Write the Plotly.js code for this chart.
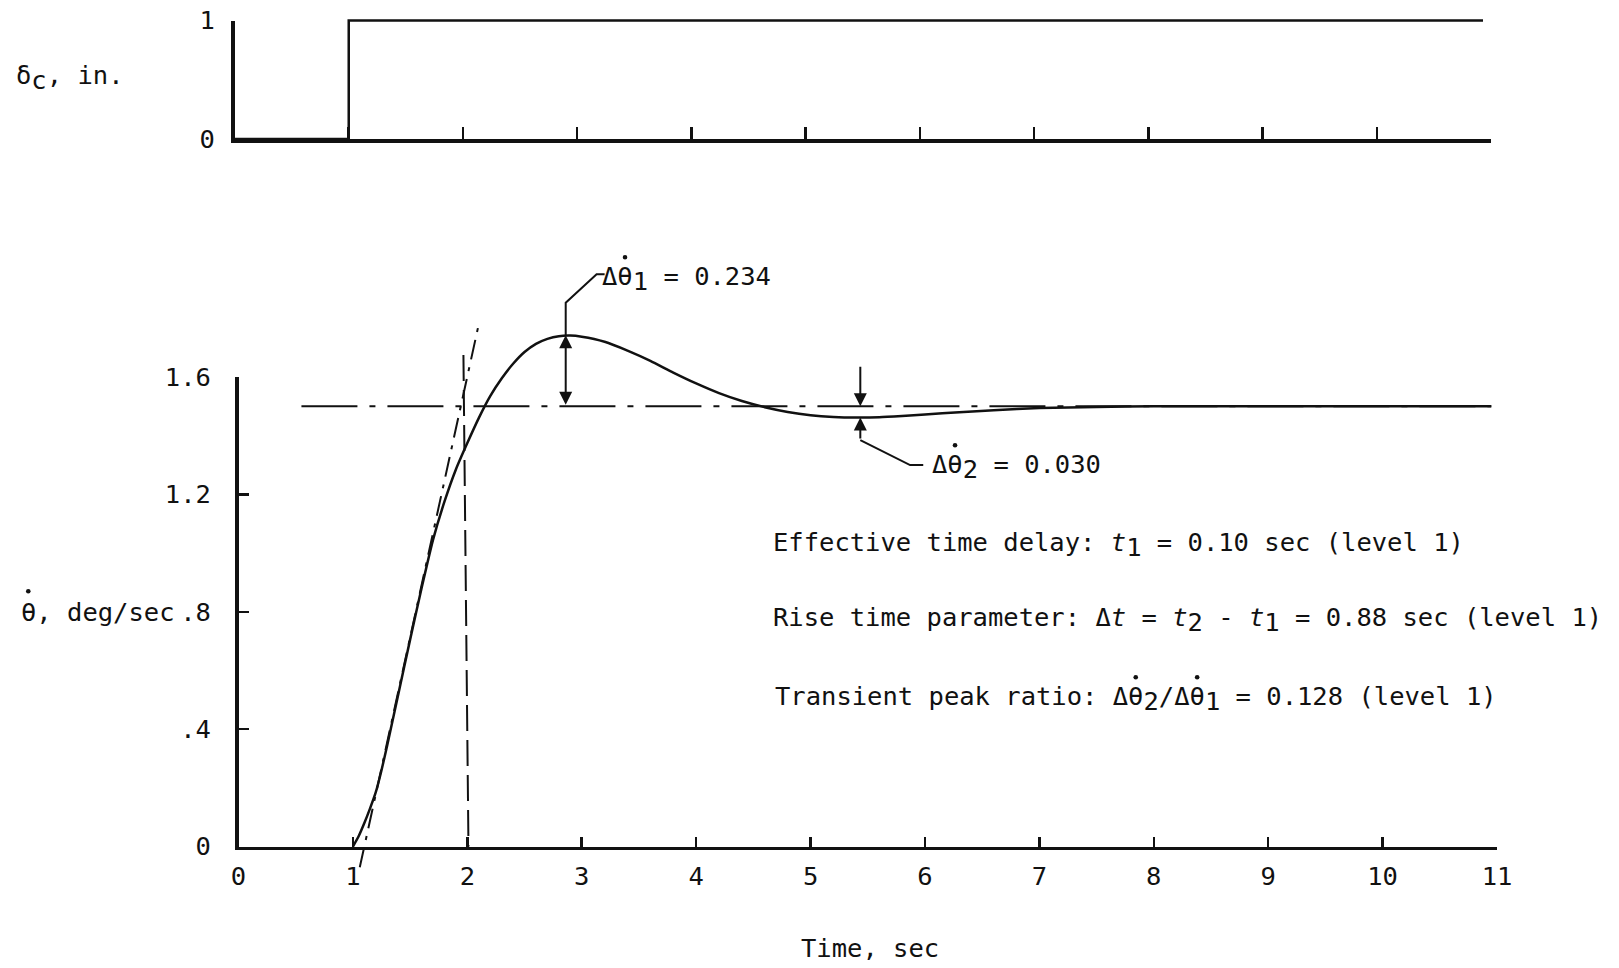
<!DOCTYPE html>
<html>
<head>
<meta charset="utf-8">
<script src="https://cdn.plot.ly/plotly-3.0.1.min.js"></script>
<style>html,body{margin:0;padding:0;background:#fff;}#chart{width:1619px;height:968px;}</style>
</head>
<body>
<div id="chart"></div>
<script>
// ---- data ----
const stepTime = [0, 1, 1, 10.93];
const stepDelta = [0, 0, 1, 1];

const time = [1.0, 1.05, 1.1, 1.15, 1.2, 1.25, 1.3, 1.4, 1.5, 1.6, 1.7, 1.8, 1.9, 2.0, 2.1, 2.2, 2.3, 2.4, 2.5, 2.6, 2.7, 2.8, 2.9, 3.0, 3.2, 3.4, 3.6, 3.8, 4.0, 4.2, 4.4, 4.6, 4.8, 5.0, 5.2, 5.4, 5.6, 5.8, 6.0, 6.3, 6.6, 7.0, 7.5, 8.0, 9.0, 10.0, 10.95];
const pitchRate = [0, 0.035, 0.08, 0.13, 0.185, 0.26, 0.345, 0.525, 0.705, 0.88, 1.045, 1.175, 1.285, 1.375, 1.46, 1.535, 1.595, 1.645, 1.685, 1.713, 1.73, 1.739, 1.741, 1.737, 1.72, 1.69, 1.655, 1.615, 1.578, 1.545, 1.518, 1.497, 1.481, 1.47, 1.464, 1.462, 1.463, 1.467, 1.472, 1.48, 1.487, 1.494, 1.498, 1.5, 1.5, 1.5, 1.5];

const steadyTime = [0.55, 10.95];
const steadyValue = [1.5, 1.5];

const tangentTime = [1.06, 2.10];
const tangentValue = [-0.071, 1.78];

const riseMarkTime = [1.966, 2.01];
const riseMarkValue = [1.675, 0];

const xTickVals = [0,1,2,3,4,5,6,7,8,9,10,11];
const xTickText = ['0','1','2','3','4','5','6','7','8','9','10','11'];
const yTickVals = [0, 0.4, 0.8, 1.2, 1.6];
const yTickText = ['0', '.4', '.8', '1.2', '1.6'];
const topXTicks = [1,2,3,4,5,6,7,8,9,10,11];
const topYTickVals = [0, 1];
const topYTickText = ['0', '1'];

// ---- geometry (pixels in 1619x968) ----
const W = 1619, H = 968;
const fx = p => p / W;
const fy = p => (H - p) / H;
const BX0 = 238.5, BX11 = 1497, BY0 = 846.5, BY16 = 377;
const TX0 = 234.5, TX11 = 1491, TY0 = 139, TY1 = 20.5;
const ppu = (BY0 - BY16) / 1.6;
const dMin = -0.15, dMax = 2.05;
const tppu = (TY0 - TY1);
const tMin = -0.1, tMax = 1.1;

const FONT = 'DejaVu Sans Mono';
const FS = 25.5;
const ADV = 0.602 * FS;
const INK = '#111';
const S = d => '<sub><span style="font-size:' + FS + 'px">' + d + '</span></sub>';

const traces = [
  {x: [xTickVals[0]], y: [yTickVals[0]], xaxis: 'x', yaxis: 'y', mode: 'markers', marker: {opacity: 0}, hoverinfo: 'skip'},
  {x: [topXTicks[0]], y: [topYTickVals[0]], xaxis: 'x2', yaxis: 'y2', mode: 'markers', marker: {opacity: 0}, hoverinfo: 'skip'},
  {x: stepTime, y: stepDelta, xaxis: 'x2', yaxis: 'y4', mode: 'lines', line: {color: INK, width: 2.5}, hoverinfo: 'skip'},
  {x: steadyTime, y: steadyValue, xaxis: 'x', yaxis: 'y3', mode: 'lines', line: {color: INK, width: 2, dash: '56px,12px,6px,12px'}, hoverinfo: 'skip'},
  {x: tangentTime, y: tangentValue, xaxis: 'x', yaxis: 'y3', mode: 'lines', line: {color: INK, width: 2, dash: '20px,8px,4px,8px'}, hoverinfo: 'skip'},
  {x: riseMarkTime, y: riseMarkValue, xaxis: 'x', yaxis: 'y3', mode: 'lines', line: {color: INK, width: 2, dash: '26px,9px'}, hoverinfo: 'skip'},
  {x: time, y: pitchRate, xaxis: 'x', yaxis: 'y3', mode: 'lines', line: {color: INK, width: 2.5, shape: 'spline', smoothing: 0.6}, hoverinfo: 'skip'}
];

const tickFont = {family: FONT, size: FS, color: INK};
const axBase = {showgrid: false, zeroline: false, showline: true, linecolor: INK, linewidth: 3.5,
  ticks: 'inside', tickcolor: INK, tickwidth: 2.5, tickfont: tickFont, fixedrange: true};

// text labels positioned in pixels
const labels = [
  {px: 16, py: 77, text: 'δ' + S('c') + ', in.'},
  {px: 20.6, py: 612, text: 'θ, deg/sec', dots: [0]},
  {px: 602, py: 278, text: 'Δθ' + S('1') + ' = 0.234', dots: [1]},
  {px: 932, py: 466, text: 'Δθ' + S('2') + ' = 0.030', dots: [1]},
  {px: 773, py: 544, text: 'Effective time delay: <i>t</i>' + S('1') + ' = 0.10 sec (level 1)'},
  {px: 773, py: 619, text: 'Rise time parameter: Δ<i>t</i> = <i>t</i>' + S('2') + ' - <i>t</i>' + S('1') + ' = 0.88 sec (level 1)'},
  {px: 775, py: 698, text: 'Transient peak ratio: Δθ' + S('2') + '/Δθ' + S('1') + ' = 0.128 (level 1)', dots: [23, 27]}
];

const annotations = [];
const shapes = [];
labels.forEach(l => {
  annotations.push({xref: 'paper', yref: 'paper', x: fx(l.px), y: fy(l.py), xanchor: 'left', yanchor: 'middle',
    showarrow: false, text: l.text, borderpad: 0, borderwidth: 0, font: {family: FONT, size: FS, color: INK}});
  (l.dots || []).forEach(i => {
    const cx = l.px + (i + 0.5) * ADV;
    const cy = l.py - 0.62 * FS - 5;
    shapes.push({type: 'circle', xref: 'paper', yref: 'paper', x0: fx(cx - 2.3), x1: fx(cx + 2.3), y0: fy(cy + 2.3), y1: fy(cy - 2.3),
      fillcolor: INK, line: {width: 0}});
  });
});
annotations.push({xref: 'paper', yref: 'paper', x: fx(870), y: fy(948), xanchor: 'center', yanchor: 'middle', showarrow: false,
  text: 'Time, sec', font: {family: FONT, size: FS, color: INK}});

// leader lines (data coords)
shapes.push({type: 'path', xref: 'x', yref: 'y3', path: 'M3.20,1.95 L3.13,1.95 L2.86,1.853 L2.86,1.742', line: {color: INK, width: 2}});
shapes.push({type: 'path', xref: 'x', yref: 'y3', path: 'M5.435,1.385 L5.87,1.30 L5.985,1.30', line: {color: INK, width: 2}});
// arrows
annotations.push(
  {xref: 'x', yref: 'y3', axref: 'x', ayref: 'y3', x: 2.86, y: 1.742, ax: 2.86, ay: 1.5, text: '', showarrow: true,
    arrowhead: 2, arrowside: 'end+start', arrowsize: 1.3, arrowwidth: 2, arrowcolor: INK, standoff: 0, startstandoff: 0},
  {xref: 'x', yref: 'y3', axref: 'x', ayref: 'y3', x: 5.435, y: 1.5, ax: 5.435, ay: 1.64, text: '', showarrow: true,
    arrowhead: 2, arrowsize: 1.3, arrowwidth: 2, arrowcolor: INK, standoff: 0},
  {xref: 'x', yref: 'y3', axref: 'x', ayref: 'y3', x: 5.435, y: 1.462, ax: 5.435, ay: 1.385, text: '', showarrow: true,
    arrowhead: 2, arrowsize: 1.3, arrowwidth: 2, arrowcolor: INK, standoff: 0}
);

const layout = {
  width: W, height: H, margin: {l: 0, r: 0, t: 0, b: 0, pad: 0},
  paper_bgcolor: '#fff', plot_bgcolor: 'rgba(0,0,0,0)', showlegend: false,
  font: {family: FONT, size: FS, color: INK},
  xaxis: Object.assign({}, axBase, {domain: [fx(BX0), fx(BX11)], range: [0, 11], anchor: 'y',
    tickmode: 'array', tickvals: xTickVals, ticktext: xTickText, ticklen: 10, ticklabelstandoff: 4}),
  yaxis: Object.assign({}, axBase, {domain: [fy(BY0), fy(BY16)], range: [0, 1.6], anchor: 'x',
    tickmode: 'array', tickvals: yTickVals, ticktext: yTickText, ticklen: 10, ticklabelstandoff: 19}),
  yaxis3: {domain: [fy(BY0 - dMin * ppu), fy(BY0 - dMax * ppu)], range: [dMin, dMax], anchor: 'x', visible: false, showgrid: false, zeroline: false, fixedrange: true},
  xaxis2: Object.assign({}, axBase, {domain: [fx(TX0), fx(TX11)], range: [0, 11], anchor: 'y2',
    tickmode: 'array', tickvals: topXTicks, showticklabels: false, ticklen: 12}),
  yaxis2: Object.assign({}, axBase, {domain: [fy(TY0), fy(TY1)], range: [0, 1], anchor: 'x2',
    tickmode: 'array', tickvals: topYTickVals, ticktext: topYTickText, ticklen: 7, ticklabelstandoff: 11}),
  yaxis4: {domain: [fy(TY0 - tMin * tppu), fy(TY0 - tMax * tppu)], range: [tMin, tMax], anchor: 'x2', visible: false, showgrid: false, zeroline: false, fixedrange: true},
  shapes: shapes,
  annotations: annotations
};

Plotly.newPlot('chart', traces, layout, {staticPlot: true, displayModeBar: false});
</script>
</body>
</html>
